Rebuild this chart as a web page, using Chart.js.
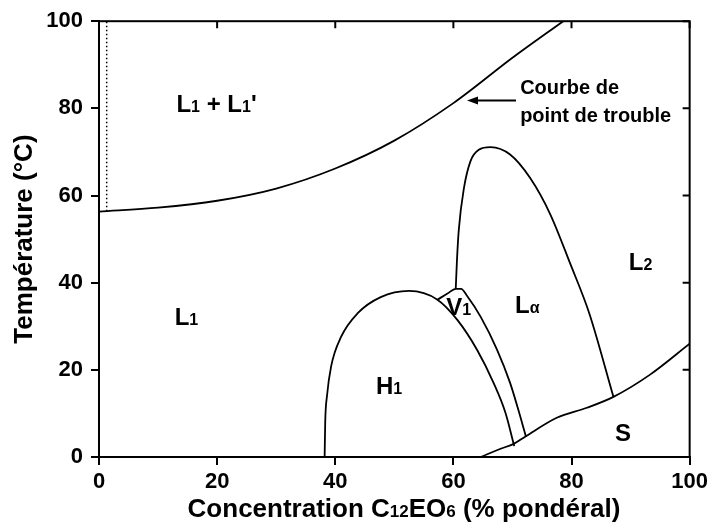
<!DOCTYPE html>
<html>
<head>
<meta charset="utf-8">
<script src="https://cdn.jsdelivr.net/npm/chart.js@4.4.1/dist/chart.umd.min.js"></script>
<style>
  html, body { margin: 0; padding: 0; background: #fff; }
  #wrap { width: 712px; height: 527px; }
</style>
</head>
<body>
<div id="wrap"><canvas id="phaseChart" width="712" height="527"></canvas></div>
<script>
const FONT = "'Liberation Sans', Arial, sans-serif";

// Phase boundaries (x = % weight, y = temperature)
const cloudX = [0, 10, 20, 30, 40, 50, 60, 70, 78.6];
const cloudY = [56.3, 57.2, 58.8, 61.6, 66.2, 72.6, 81.2, 91.6, 100];

const dottedX = [1.3, 1.3];
const dottedY = [56.4, 100];

const h1X = [38.2, 38.3, 38.6, 39.3, 41, 43.8, 47.7, 52.5, 57.3, 60.7, 64, 66.8, 68.8, 70.3];
const h1Y = [0, 8, 14, 20.8, 27.6, 33, 36.7, 38.1, 36.1, 31.4, 24.6, 17, 10.2, 2.5];

const v1X = [57.3, 59, 60.4, 61.3, 62.3, 64.6, 67.4, 69.6, 71.3, 72.3];
const v1Y = [36.1, 37.5, 38.6, 38.6, 37, 32.2, 24.6, 17, 9.4, 4.6];

const laX = [60.4, 60.6, 60.9, 61.8, 62.9, 64.3, 66.3, 69.6, 73, 76.4, 79.8, 83, 87.1];
const laY = [38.6, 45, 51.9, 61.8, 67.9, 70.5, 71.1, 69.4, 64, 55.7, 44.3, 33, 13.8];

const sX = [64.6, 68, 70.2, 72.2, 77.5, 82.6, 87.1, 93.3, 100];
const sY = [0, 1.9, 3, 4.7, 9, 11.3, 13.8, 18.9, 26];

const xTicks = [0, 20, 40, 60, 80, 100];
const yTicks = [0, 20, 40, 60, 80, 100];

// Region names: [text, subscript] pieces
const phaseLabels = [
    { parts: [['L'], ['1', true], [' + L'], ['1', true], ["'"]], x: 19.9, y: 81.2 },
    { parts: [['L'], ['1', true]], x: 14.8, y: 32.3 },
    { parts: [['H'], ['1', true]], x: 49.1, y: 16.4 },
    { parts: [['V'], ['1', true]], x: 60.9, y: 34.6 },
    { parts: [['L'], ['\u03b1', true]], x: 72.5, y: 35 },
    { parts: [['L'], ['2', true]], x: 91.7, y: 45 },
    { parts: [['S']], x: 88.7, y: 5.7 }
];

const cloudNote = ['Courbe de', 'point de trouble'];

function toPoints(xs, ys) {
    return xs.map((x, i) => ({ x: x, y: ys[i] }));
}

function curve(xs, ys, extra) {
    return Object.assign({
        data: toPoints(xs, ys),
        showLine: true,
        borderColor: '#000',
        borderWidth: 1.8,
        pointRadius: 0,
        cubicInterpolationMode: 'monotone',
        fill: false
    }, extra || {});
}

// Draw text with smaller subscript pieces, centred on (cx, cy)
function drawRich(ctx, parts, cx, cy, size) {
    const subSize = Math.round(size * 0.65);
    let total = 0;
    parts.forEach(p => {
        ctx.font = `bold ${p[1] ? subSize : size}px ${FONT}`;
        total += ctx.measureText(p[0]).width;
    });
    let x = cx - total / 2;
    const base = cy + size * 0.36;
    ctx.textAlign = 'left';
    ctx.textBaseline = 'alphabetic';
    parts.forEach(p => {
        ctx.font = `bold ${p[1] ? subSize : size}px ${FONT}`;
        ctx.fillText(p[0], x, base);
        x += ctx.measureText(p[0]).width;
    });
}

const decorations = {
    id: 'decorations',
    afterDraw(chart) {
        const ctx = chart.ctx;
        const xs = chart.scales.x;
        const ys = chart.scales.y;
        const area = chart.chartArea;
        ctx.save();
        ctx.fillStyle = '#000';
        ctx.strokeStyle = '#000';

        // frame and inner ticks on top / right
        ctx.lineWidth = 2;
        ctx.strokeRect(area.left, area.top, area.right - area.left, area.bottom - area.top);
        ctx.beginPath();
        xTicks.forEach(v => {
            const px = xs.getPixelForValue(v);
            ctx.moveTo(px, area.top);
            ctx.lineTo(px, area.top + 7);
        });
        yTicks.forEach(v => {
            const py = ys.getPixelForValue(v);
            ctx.moveTo(area.right, py);
            ctx.lineTo(area.right - 7, py);
        });
        ctx.stroke();

        // region labels
        phaseLabels.forEach(l => {
            drawRich(ctx, l.parts, xs.getPixelForValue(l.x), ys.getPixelForValue(l.y), 24);
        });

        // arrow to the cloud point curve
        const ay = ys.getPixelForValue(81.8);
        const ax0 = xs.getPixelForValue(70.6);
        const ax1 = xs.getPixelForValue(62.3);
        ctx.lineWidth = 1.8;
        ctx.beginPath();
        ctx.moveTo(ax0, ay);
        ctx.lineTo(ax1 + 8, ay);
        ctx.stroke();
        ctx.beginPath();
        ctx.moveTo(ax1, ay);
        ctx.lineTo(ax1 + 11, ay - 4);
        ctx.lineTo(ax1 + 11, ay + 4);
        ctx.closePath();
        ctx.fill();

        ctx.font = `bold 20px ${FONT}`;
        ctx.textAlign = 'left';
        ctx.textBaseline = 'middle';
        ctx.fillText(cloudNote[0], xs.getPixelForValue(71.3), ys.getPixelForValue(84.6));
        ctx.fillText(cloudNote[1], xs.getPixelForValue(71.3), ys.getPixelForValue(78.2));

        // axis titles
        drawRich(ctx, [['Concentration C'], ['12', true], ['EO'], ['6', true], [' (% pond\u00e9ral)']], 404, 508, 26);
        ctx.save();
        ctx.translate(23, (area.top + area.bottom) / 2);
        ctx.rotate(-Math.PI / 2);
        drawRich(ctx, [['Temp\u00e9rature (\u00b0C)']], 0, 0, 26);
        ctx.restore();

        ctx.restore();
    }
};

function initChart() {
    const ctx = document.getElementById('phaseChart').getContext('2d');
    new Chart(ctx, {
        type: 'scatter',
        data: {
            datasets: [
                curve(cloudX, cloudY),
                curve(dottedX, dottedY, { borderDash: [1.5, 2.5], borderWidth: 1.5, cubicInterpolationMode: 'default', tension: 0 }),
                curve(h1X, h1Y),
                curve(v1X, v1Y),
                curve(laX, laY),
                curve(sX, sY)
            ]
        },
        options: {
            responsive: false,
            animation: false,
            devicePixelRatio: 1,
            layout: { padding: { top: 20, right: 22, left: 0, bottom: 0 } },
            plugins: {
                legend: { display: false },
                tooltip: { enabled: false }
            },
            scales: {
                x: {
                    type: 'linear',
                    min: 0,
                    max: 100,
                    afterFit: s => { s.height = 70; },
                    afterBuildTicks: s => { s.ticks = xTicks.map(v => ({ value: v })); },
                    grid: { drawOnChartArea: false, drawTicks: true, tickLength: 8, color: '#000', lineWidth: 2 },
                    border: { display: true, color: '#000', width: 2 },
                    ticks: { color: '#000', padding: 4, maxRotation: 0, font: { family: FONT, size: 22, weight: 'bold' } }
                },
                y: {
                    type: 'linear',
                    min: 0,
                    max: 100,
                    afterFit: s => { s.width = 99; },
                    afterBuildTicks: s => { s.ticks = yTicks.map(v => ({ value: v })); },
                    grid: { drawOnChartArea: false, drawTicks: true, tickLength: 8, color: '#000', lineWidth: 2 },
                    border: { display: true, color: '#000', width: 2 },
                    ticks: { color: '#000', padding: 8, font: { family: FONT, size: 22, weight: 'bold' } }
                }
            }
        },
        plugins: [decorations]
    });
}

document.addEventListener('DOMContentLoaded', initChart);
</script>
</body>
</html>
